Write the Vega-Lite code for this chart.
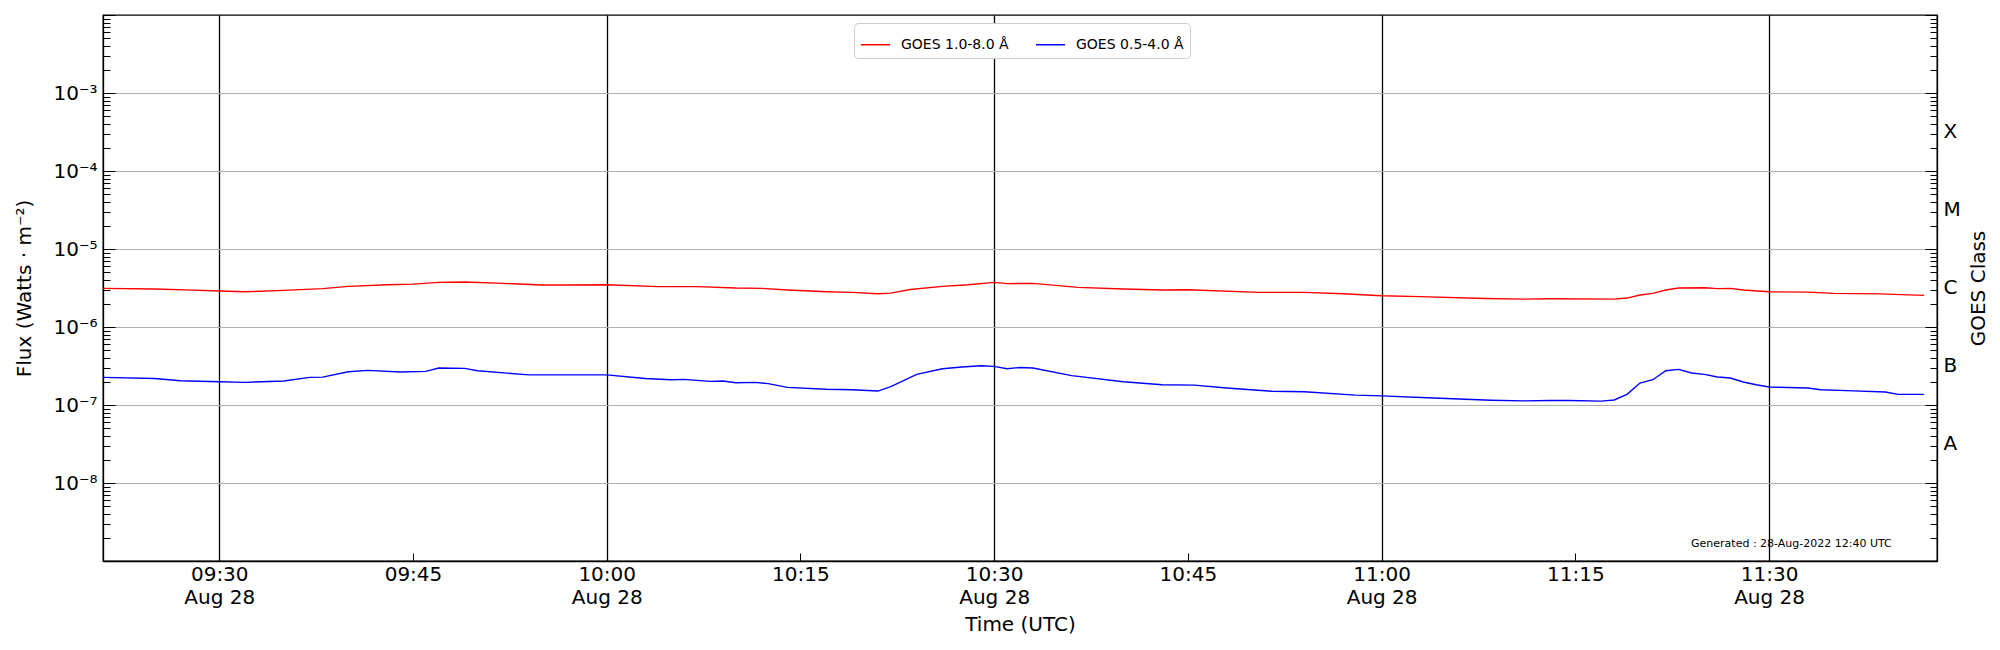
{
  "$schema": "https://vega.github.io/schema/vega-lite/v6.json",
  "width": 1834,
  "height": 546,
  "autosize": {"type": "none"},
  "padding": {"left": 103, "top": 15, "right": 63, "bottom": 89},
  "background": "white",
  "config": {
    "font": "DejaVu Sans",
    "view": {"stroke": "black", "strokeWidth": 1.3},
    "axis": {
      "labelFont": "DejaVu Sans", "titleFont": "DejaVu Sans",
      "labelFontSize": 20, "titleFontSize": 20, "titleFontWeight": "normal",
      "labelColor": "black", "titleColor": "black",
      "tickColor": "black", "domainColor": "black", "domainWidth": 1.3,
      "labelOverlap": false, "labelFlush": false, "labelBound": false
    }
  },
  "resolve": {"scale": {"y": "shared"}, "axis": {"y": "independent"}},
  "encoding": {
    "x": {
      "field": "time", "type": "temporal",
      "scale": {
        "type": "utc", "nice": false,
        "domain": [
          {"year": 2022, "month": 8, "date": 28, "hours": 9, "minutes": 21, "utc": true},
          {"year": 2022, "month": 8, "date": 28, "hours": 11, "minutes": 43, "utc": true}
        ]
      },
      "axis": {
        "title": "Time (UTC)",
        "orient": "bottom",
        "values": [
          {"year": 2022, "month": 8, "date": 28, "hours": 9, "minutes": 30, "utc": true},
          {"year": 2022, "month": 8, "date": 28, "hours": 9, "minutes": 45, "utc": true},
          {"year": 2022, "month": 8, "date": 28, "hours": 10, "minutes": 0, "utc": true},
          {"year": 2022, "month": 8, "date": 28, "hours": 10, "minutes": 15, "utc": true},
          {"year": 2022, "month": 8, "date": 28, "hours": 10, "minutes": 30, "utc": true},
          {"year": 2022, "month": 8, "date": 28, "hours": 10, "minutes": 45, "utc": true},
          {"year": 2022, "month": 8, "date": 28, "hours": 11, "minutes": 0, "utc": true},
          {"year": 2022, "month": 8, "date": 28, "hours": 11, "minutes": 15, "utc": true},
          {"year": 2022, "month": 8, "date": 28, "hours": 11, "minutes": 30, "utc": true}
        ],
        "labelExpr": "utcminutes(datum.value) % 30 == 0 ? [utcFormat(datum.value, '%H:%M'), utcFormat(datum.value, '%b %d')] : utcFormat(datum.value, '%H:%M')",
        "labelLineHeight": 23,
        "labelPadding": 11,
        "tickSize": -8,
        "tickWidth": 1,
        "grid": true,
        "gridColor": "black",
        "gridWidth": 1.3,
        "gridOpacity": {"condition": {"test": "utcminutes(datum.value) % 30 == 0", "value": 1}, "value": 0},
        "titlePadding": 7
      }
    }
  },
  "layer": [
    {
      "data": {
        "values": [
          {"time": "2022-08-28T09:21:00Z", "flux": 3.13e-6, "channel": "GOES 1.0-8.0 Å"},
          {"time": "2022-08-28T09:25:00Z", "flux": 3.07e-6, "channel": "GOES 1.0-8.0 Å"},
          {"time": "2022-08-28T09:28:00Z", "flux": 2.97e-6, "channel": "GOES 1.0-8.0 Å"},
          {"time": "2022-08-28T09:30:00Z", "flux": 2.89e-6, "channel": "GOES 1.0-8.0 Å"},
          {"time": "2022-08-28T09:32:00Z", "flux": 2.83e-6, "channel": "GOES 1.0-8.0 Å"},
          {"time": "2022-08-28T09:35:00Z", "flux": 2.95e-6, "channel": "GOES 1.0-8.0 Å"},
          {"time": "2022-08-28T09:38:00Z", "flux": 3.10e-6, "channel": "GOES 1.0-8.0 Å"},
          {"time": "2022-08-28T09:40:00Z", "flux": 3.32e-6, "channel": "GOES 1.0-8.0 Å"},
          {"time": "2022-08-28T09:43:00Z", "flux": 3.48e-6, "channel": "GOES 1.0-8.0 Å"},
          {"time": "2022-08-28T09:45:00Z", "flux": 3.55e-6, "channel": "GOES 1.0-8.0 Å"},
          {"time": "2022-08-28T09:47:00Z", "flux": 3.73e-6, "channel": "GOES 1.0-8.0 Å"},
          {"time": "2022-08-28T09:49:00Z", "flux": 3.77e-6, "channel": "GOES 1.0-8.0 Å"},
          {"time": "2022-08-28T09:52:00Z", "flux": 3.63e-6, "channel": "GOES 1.0-8.0 Å"},
          {"time": "2022-08-28T09:55:00Z", "flux": 3.46e-6, "channel": "GOES 1.0-8.0 Å"},
          {"time": "2022-08-28T09:57:00Z", "flux": 3.46e-6, "channel": "GOES 1.0-8.0 Å"},
          {"time": "2022-08-28T10:00:00Z", "flux": 3.48e-6, "channel": "GOES 1.0-8.0 Å"},
          {"time": "2022-08-28T10:04:00Z", "flux": 3.29e-6, "channel": "GOES 1.0-8.0 Å"},
          {"time": "2022-08-28T10:07:00Z", "flux": 3.29e-6, "channel": "GOES 1.0-8.0 Å"},
          {"time": "2022-08-28T10:10:00Z", "flux": 3.16e-6, "channel": "GOES 1.0-8.0 Å"},
          {"time": "2022-08-28T10:12:00Z", "flux": 3.13e-6, "channel": "GOES 1.0-8.0 Å"},
          {"time": "2022-08-28T10:14:00Z", "flux": 2.98e-6, "channel": "GOES 1.0-8.0 Å"},
          {"time": "2022-08-28T10:17:00Z", "flux": 2.83e-6, "channel": "GOES 1.0-8.0 Å"},
          {"time": "2022-08-28T10:19:00Z", "flux": 2.78e-6, "channel": "GOES 1.0-8.0 Å"},
          {"time": "2022-08-28T10:21:00Z", "flux": 2.67e-6, "channel": "GOES 1.0-8.0 Å"},
          {"time": "2022-08-28T10:22:00Z", "flux": 2.72e-6, "channel": "GOES 1.0-8.0 Å"},
          {"time": "2022-08-28T10:23:30Z", "flux": 3.03e-6, "channel": "GOES 1.0-8.0 Å"},
          {"time": "2022-08-28T10:26:00Z", "flux": 3.32e-6, "channel": "GOES 1.0-8.0 Å"},
          {"time": "2022-08-28T10:28:00Z", "flux": 3.48e-6, "channel": "GOES 1.0-8.0 Å"},
          {"time": "2022-08-28T10:30:00Z", "flux": 3.73e-6, "channel": "GOES 1.0-8.0 Å"},
          {"time": "2022-08-28T10:31:00Z", "flux": 3.60e-6, "channel": "GOES 1.0-8.0 Å"},
          {"time": "2022-08-28T10:33:00Z", "flux": 3.63e-6, "channel": "GOES 1.0-8.0 Å"},
          {"time": "2022-08-28T10:36:30Z", "flux": 3.22e-6, "channel": "GOES 1.0-8.0 Å"},
          {"time": "2022-08-28T10:40:00Z", "flux": 3.07e-6, "channel": "GOES 1.0-8.0 Å"},
          {"time": "2022-08-28T10:43:00Z", "flux": 2.98e-6, "channel": "GOES 1.0-8.0 Å"},
          {"time": "2022-08-28T10:45:00Z", "flux": 3.00e-6, "channel": "GOES 1.0-8.0 Å"},
          {"time": "2022-08-28T10:50:30Z", "flux": 2.78e-6, "channel": "GOES 1.0-8.0 Å"},
          {"time": "2022-08-28T10:54:00Z", "flux": 2.78e-6, "channel": "GOES 1.0-8.0 Å"},
          {"time": "2022-08-28T10:57:00Z", "flux": 2.67e-6, "channel": "GOES 1.0-8.0 Å"},
          {"time": "2022-08-28T11:00:00Z", "flux": 2.52e-6, "channel": "GOES 1.0-8.0 Å"},
          {"time": "2022-08-28T11:03:00Z", "flux": 2.45e-6, "channel": "GOES 1.0-8.0 Å"},
          {"time": "2022-08-28T11:08:00Z", "flux": 2.32e-6, "channel": "GOES 1.0-8.0 Å"},
          {"time": "2022-08-28T11:11:00Z", "flux": 2.28e-6, "channel": "GOES 1.0-8.0 Å"},
          {"time": "2022-08-28T11:13:00Z", "flux": 2.30e-6, "channel": "GOES 1.0-8.0 Å"},
          {"time": "2022-08-28T11:18:00Z", "flux": 2.28e-6, "channel": "GOES 1.0-8.0 Å"},
          {"time": "2022-08-28T11:19:00Z", "flux": 2.35e-6, "channel": "GOES 1.0-8.0 Å"},
          {"time": "2022-08-28T11:20:00Z", "flux": 2.57e-6, "channel": "GOES 1.0-8.0 Å"},
          {"time": "2022-08-28T11:21:00Z", "flux": 2.70e-6, "channel": "GOES 1.0-8.0 Å"},
          {"time": "2022-08-28T11:22:00Z", "flux": 2.98e-6, "channel": "GOES 1.0-8.0 Å"},
          {"time": "2022-08-28T11:23:00Z", "flux": 3.16e-6, "channel": "GOES 1.0-8.0 Å"},
          {"time": "2022-08-28T11:25:00Z", "flux": 3.19e-6, "channel": "GOES 1.0-8.0 Å"},
          {"time": "2022-08-28T11:26:00Z", "flux": 3.10e-6, "channel": "GOES 1.0-8.0 Å"},
          {"time": "2022-08-28T11:27:00Z", "flux": 3.13e-6, "channel": "GOES 1.0-8.0 Å"},
          {"time": "2022-08-28T11:28:00Z", "flux": 2.98e-6, "channel": "GOES 1.0-8.0 Å"},
          {"time": "2022-08-28T11:30:00Z", "flux": 2.83e-6, "channel": "GOES 1.0-8.0 Å"},
          {"time": "2022-08-28T11:33:00Z", "flux": 2.80e-6, "channel": "GOES 1.0-8.0 Å"},
          {"time": "2022-08-28T11:35:00Z", "flux": 2.70e-6, "channel": "GOES 1.0-8.0 Å"},
          {"time": "2022-08-28T11:38:30Z", "flux": 2.66e-6, "channel": "GOES 1.0-8.0 Å"},
          {"time": "2022-08-28T11:42:00Z", "flux": 2.54e-6, "channel": "GOES 1.0-8.0 Å"},
          {"time": "2022-08-28T09:21:00Z", "flux": 2.26e-7, "channel": "GOES 0.5-4.0 Å"},
          {"time": "2022-08-28T09:25:00Z", "flux": 2.19e-7, "channel": "GOES 0.5-4.0 Å"},
          {"time": "2022-08-28T09:27:00Z", "flux": 2.05e-7, "channel": "GOES 0.5-4.0 Å"},
          {"time": "2022-08-28T09:30:00Z", "flux": 1.99e-7, "channel": "GOES 0.5-4.0 Å"},
          {"time": "2022-08-28T09:32:00Z", "flux": 1.95e-7, "channel": "GOES 0.5-4.0 Å"},
          {"time": "2022-08-28T09:35:00Z", "flux": 2.03e-7, "channel": "GOES 0.5-4.0 Å"},
          {"time": "2022-08-28T09:37:00Z", "flux": 2.26e-7, "channel": "GOES 0.5-4.0 Å"},
          {"time": "2022-08-28T09:38:00Z", "flux": 2.28e-7, "channel": "GOES 0.5-4.0 Å"},
          {"time": "2022-08-28T09:40:00Z", "flux": 2.67e-7, "channel": "GOES 0.5-4.0 Å"},
          {"time": "2022-08-28T09:41:30Z", "flux": 2.78e-7, "channel": "GOES 0.5-4.0 Å"},
          {"time": "2022-08-28T09:44:00Z", "flux": 2.65e-7, "channel": "GOES 0.5-4.0 Å"},
          {"time": "2022-08-28T09:46:00Z", "flux": 2.70e-7, "channel": "GOES 0.5-4.0 Å"},
          {"time": "2022-08-28T09:47:00Z", "flux": 2.98e-7, "channel": "GOES 0.5-4.0 Å"},
          {"time": "2022-08-28T09:49:00Z", "flux": 2.95e-7, "channel": "GOES 0.5-4.0 Å"},
          {"time": "2022-08-28T09:50:00Z", "flux": 2.75e-7, "channel": "GOES 0.5-4.0 Å"},
          {"time": "2022-08-28T09:54:00Z", "flux": 2.43e-7, "channel": "GOES 0.5-4.0 Å"},
          {"time": "2022-08-28T09:57:00Z", "flux": 2.43e-7, "channel": "GOES 0.5-4.0 Å"},
          {"time": "2022-08-28T10:00:00Z", "flux": 2.43e-7, "channel": "GOES 0.5-4.0 Å"},
          {"time": "2022-08-28T10:03:00Z", "flux": 2.19e-7, "channel": "GOES 0.5-4.0 Å"},
          {"time": "2022-08-28T10:05:00Z", "flux": 2.11e-7, "channel": "GOES 0.5-4.0 Å"},
          {"time": "2022-08-28T10:06:00Z", "flux": 2.13e-7, "channel": "GOES 0.5-4.0 Å"},
          {"time": "2022-08-28T10:08:00Z", "flux": 2.01e-7, "channel": "GOES 0.5-4.0 Å"},
          {"time": "2022-08-28T10:09:00Z", "flux": 2.03e-7, "channel": "GOES 0.5-4.0 Å"},
          {"time": "2022-08-28T10:10:00Z", "flux": 1.93e-7, "channel": "GOES 0.5-4.0 Å"},
          {"time": "2022-08-28T10:11:30Z", "flux": 1.95e-7, "channel": "GOES 0.5-4.0 Å"},
          {"time": "2022-08-28T10:12:30Z", "flux": 1.88e-7, "channel": "GOES 0.5-4.0 Å"},
          {"time": "2022-08-28T10:14:00Z", "flux": 1.68e-7, "channel": "GOES 0.5-4.0 Å"},
          {"time": "2022-08-28T10:17:00Z", "flux": 1.59e-7, "channel": "GOES 0.5-4.0 Å"},
          {"time": "2022-08-28T10:19:00Z", "flux": 1.57e-7, "channel": "GOES 0.5-4.0 Å"},
          {"time": "2022-08-28T10:21:00Z", "flux": 1.51e-7, "channel": "GOES 0.5-4.0 Å"},
          {"time": "2022-08-28T10:22:00Z", "flux": 1.72e-7, "channel": "GOES 0.5-4.0 Å"},
          {"time": "2022-08-28T10:24:00Z", "flux": 2.47e-7, "channel": "GOES 0.5-4.0 Å"},
          {"time": "2022-08-28T10:26:00Z", "flux": 2.92e-7, "channel": "GOES 0.5-4.0 Å"},
          {"time": "2022-08-28T10:27:30Z", "flux": 3.07e-7, "channel": "GOES 0.5-4.0 Å"},
          {"time": "2022-08-28T10:29:00Z", "flux": 3.19e-7, "channel": "GOES 0.5-4.0 Å"},
          {"time": "2022-08-28T10:30:00Z", "flux": 3.13e-7, "channel": "GOES 0.5-4.0 Å"},
          {"time": "2022-08-28T10:31:00Z", "flux": 2.92e-7, "channel": "GOES 0.5-4.0 Å"},
          {"time": "2022-08-28T10:32:00Z", "flux": 3.03e-7, "channel": "GOES 0.5-4.0 Å"},
          {"time": "2022-08-28T10:33:00Z", "flux": 2.98e-7, "channel": "GOES 0.5-4.0 Å"},
          {"time": "2022-08-28T10:36:00Z", "flux": 2.38e-7, "channel": "GOES 0.5-4.0 Å"},
          {"time": "2022-08-28T10:40:00Z", "flux": 1.99e-7, "channel": "GOES 0.5-4.0 Å"},
          {"time": "2022-08-28T10:43:00Z", "flux": 1.82e-7, "channel": "GOES 0.5-4.0 Å"},
          {"time": "2022-08-28T10:45:30Z", "flux": 1.80e-7, "channel": "GOES 0.5-4.0 Å"},
          {"time": "2022-08-28T10:48:00Z", "flux": 1.65e-7, "channel": "GOES 0.5-4.0 Å"},
          {"time": "2022-08-28T10:51:30Z", "flux": 1.50e-7, "channel": "GOES 0.5-4.0 Å"},
          {"time": "2022-08-28T10:54:00Z", "flux": 1.48e-7, "channel": "GOES 0.5-4.0 Å"},
          {"time": "2022-08-28T10:58:00Z", "flux": 1.34e-7, "channel": "GOES 0.5-4.0 Å"},
          {"time": "2022-08-28T11:00:00Z", "flux": 1.31e-7, "channel": "GOES 0.5-4.0 Å"},
          {"time": "2022-08-28T11:04:00Z", "flux": 1.23e-7, "channel": "GOES 0.5-4.0 Å"},
          {"time": "2022-08-28T11:08:30Z", "flux": 1.15e-7, "channel": "GOES 0.5-4.0 Å"},
          {"time": "2022-08-28T11:11:00Z", "flux": 1.13e-7, "channel": "GOES 0.5-4.0 Å"},
          {"time": "2022-08-28T11:13:00Z", "flux": 1.14e-7, "channel": "GOES 0.5-4.0 Å"},
          {"time": "2022-08-28T11:14:30Z", "flux": 1.14e-7, "channel": "GOES 0.5-4.0 Å"},
          {"time": "2022-08-28T11:17:00Z", "flux": 1.12e-7, "channel": "GOES 0.5-4.0 Å"},
          {"time": "2022-08-28T11:18:00Z", "flux": 1.16e-7, "channel": "GOES 0.5-4.0 Å"},
          {"time": "2022-08-28T11:19:00Z", "flux": 1.37e-7, "channel": "GOES 0.5-4.0 Å"},
          {"time": "2022-08-28T11:20:00Z", "flux": 1.91e-7, "channel": "GOES 0.5-4.0 Å"},
          {"time": "2022-08-28T11:21:00Z", "flux": 2.11e-7, "channel": "GOES 0.5-4.0 Å"},
          {"time": "2022-08-28T11:22:00Z", "flux": 2.75e-7, "channel": "GOES 0.5-4.0 Å"},
          {"time": "2022-08-28T11:23:00Z", "flux": 2.86e-7, "channel": "GOES 0.5-4.0 Å"},
          {"time": "2022-08-28T11:24:00Z", "flux": 2.57e-7, "channel": "GOES 0.5-4.0 Å"},
          {"time": "2022-08-28T11:25:00Z", "flux": 2.47e-7, "channel": "GOES 0.5-4.0 Å"},
          {"time": "2022-08-28T11:26:00Z", "flux": 2.29e-7, "channel": "GOES 0.5-4.0 Å"},
          {"time": "2022-08-28T11:27:00Z", "flux": 2.22e-7, "channel": "GOES 0.5-4.0 Å"},
          {"time": "2022-08-28T11:28:00Z", "flux": 1.97e-7, "channel": "GOES 0.5-4.0 Å"},
          {"time": "2022-08-28T11:29:00Z", "flux": 1.82e-7, "channel": "GOES 0.5-4.0 Å"},
          {"time": "2022-08-28T11:30:00Z", "flux": 1.70e-7, "channel": "GOES 0.5-4.0 Å"},
          {"time": "2022-08-28T11:33:00Z", "flux": 1.65e-7, "channel": "GOES 0.5-4.0 Å"},
          {"time": "2022-08-28T11:34:00Z", "flux": 1.57e-7, "channel": "GOES 0.5-4.0 Å"},
          {"time": "2022-08-28T11:36:00Z", "flux": 1.53e-7, "channel": "GOES 0.5-4.0 Å"},
          {"time": "2022-08-28T11:39:00Z", "flux": 1.47e-7, "channel": "GOES 0.5-4.0 Å"},
          {"time": "2022-08-28T11:40:00Z", "flux": 1.37e-7, "channel": "GOES 0.5-4.0 Å"},
          {"time": "2022-08-28T11:42:00Z", "flux": 1.37e-7, "channel": "GOES 0.5-4.0 Å"}
        ]
      },
      "mark": {"type": "line", "strokeWidth": 1.4},
      "encoding": {
        "y": {
          "field": "flux", "type": "quantitative",
          "scale": {"type": "log", "domain": [1e-9, 1e-2], "nice": false},
          "axis": {
            "orient": "left",
            "title": "Flux (Watts · m⁻²)",
            "values": [1e-9, 2e-9, 3e-9, 4e-9, 5e-9, 6e-9, 7e-9, 8e-9, 9e-9,
                       1e-8, 2e-8, 3e-8, 4e-8, 5e-8, 6e-8, 7e-8, 8e-8, 9e-8,
                       1e-7, 2e-7, 3e-7, 4e-7, 5e-7, 6e-7, 7e-7, 8e-7, 9e-7,
                       1e-6, 2e-6, 3e-6, 4e-6, 5e-6, 6e-6, 7e-6, 8e-6, 9e-6,
                       1e-5, 2e-5, 3e-5, 4e-5, 5e-5, 6e-5, 7e-5, 8e-5, 9e-5,
                       1e-4, 2e-4, 3e-4, 4e-4, 5e-4, 6e-4, 7e-4, 8e-4, 9e-4,
                       1e-3, 2e-3, 3e-3, 4e-3, 5e-3, 6e-3, 7e-3, 8e-3, 9e-3, 1e-2],
            "labelExpr": "abs(log(datum.value)/LN10 - round(log(datum.value)/LN10)) < 0.001 && datum.value > 5e-9 && datum.value < 5e-3 ? '10⁻' + ['⁰','¹','²','³','⁴','⁵','⁶','⁷','⁸','⁹'][-round(log(datum.value)/LN10)] : ''",
            "tickSize": {"condition": {"test": "abs(log(datum.value)/LN10 - round(log(datum.value)/LN10)) < 0.001", "value": -12}, "value": -7},
            "tickWidth": 1,
            "labelPadding": 18,
            "grid": true,
            "gridColor": "#b0b0b0",
            "gridWidth": 1.2,
            "gridOpacity": {"condition": {"test": "abs(log(datum.value)/LN10 - round(log(datum.value)/LN10)) < 0.001 && datum.value > 5e-9 && datum.value < 5e-3", "value": 1}, "value": 0},
            "titlePadding": 18
          }
        },
        "color": {
          "field": "channel", "type": "nominal",
          "scale": {"domain": ["GOES 1.0-8.0 Å", "GOES 0.5-4.0 Å"], "range": ["#ff0000", "#0000ff"]},
          "legend": {
            "title": null,
            "orient": "none",
            "legendX": 751,
            "legendY": 8,
            "direction": "horizontal",
            "symbolType": "stroke",
            "symbolSize": 841,
            "symbolStrokeWidth": 1.5,
            "labelFont": "DejaVu Sans",
            "labelFontSize": 14,
            "labelColor": "black",
            "labelOffset": 10,
            "columnPadding": 24,
            "padding": 6,
            "strokeColor": "#cccccc",
            "fillColor": "white",
            "cornerRadius": 4
          }
        }
      }
    },
    {
      "data": {"values": [{"time": "2022-08-28T11:39:30Z", "flux": 1.67e-9, "note": "Generated : 28-Aug-2022 12:40 UTC"}]},
      "mark": {"type": "text", "align": "right", "baseline": "middle", "font": "DejaVu Sans", "fontSize": 11, "color": "black"},
      "encoding": {
        "y": {
          "field": "flux", "type": "quantitative",
          "scale": {"type": "log", "domain": [1e-9, 1e-2], "nice": false},
          "axis": {
            "orient": "right",
            "title": "GOES Class",
            "titleAngle": 270,
            "titleBaseline": "top",
            "values": [1e-9, 2e-9, 3e-9, 4e-9, 5e-9, 6e-9, 7e-9, 8e-9, 9e-9,
                       1e-8, 2e-8, 3e-8, 4e-8, 5e-8, 6e-8, 7e-8, 8e-8, 9e-8,
                       1e-7, 2e-7, 3e-7, 4e-7, 5e-7, 6e-7, 7e-7, 8e-7, 9e-7,
                       1e-6, 2e-6, 3e-6, 4e-6, 5e-6, 6e-6, 7e-6, 8e-6, 9e-6,
                       1e-5, 2e-5, 3e-5, 4e-5, 5e-5, 6e-5, 7e-5, 8e-5, 9e-5,
                       1e-4, 2e-4, 3e-4, 4e-4, 5e-4, 6e-4, 7e-4, 8e-4, 9e-4,
                       1e-3, 2e-3, 3e-3, 4e-3, 5e-3, 6e-3, 7e-3, 8e-3, 9e-3, 1e-2,
                       3.1623e-8, 3.1623e-7, 3.1623e-6, 3.1623e-5, 3.1623e-4],
            "labelExpr": "abs(log(datum.value)/LN10 - round(log(datum.value)/LN10)) > 0.49 ? ['A','B','C','M','X'][floor(log(datum.value)/LN10) + 8] : ''",
            "tickSize": {
              "condition": [
                {"test": "abs(log(datum.value)/LN10 - round(log(datum.value)/LN10)) > 0.49", "value": 0},
                {"test": "abs(log(datum.value)/LN10 - round(log(datum.value)/LN10)) < 0.001", "value": -12}
              ],
              "value": -7
            },
            "tickWidth": 1,
            "labelPadding": 6,
            "grid": false,
            "titlePadding": 8
          }
        },
        "text": {"field": "note"}
      }
    }
  ]
}
